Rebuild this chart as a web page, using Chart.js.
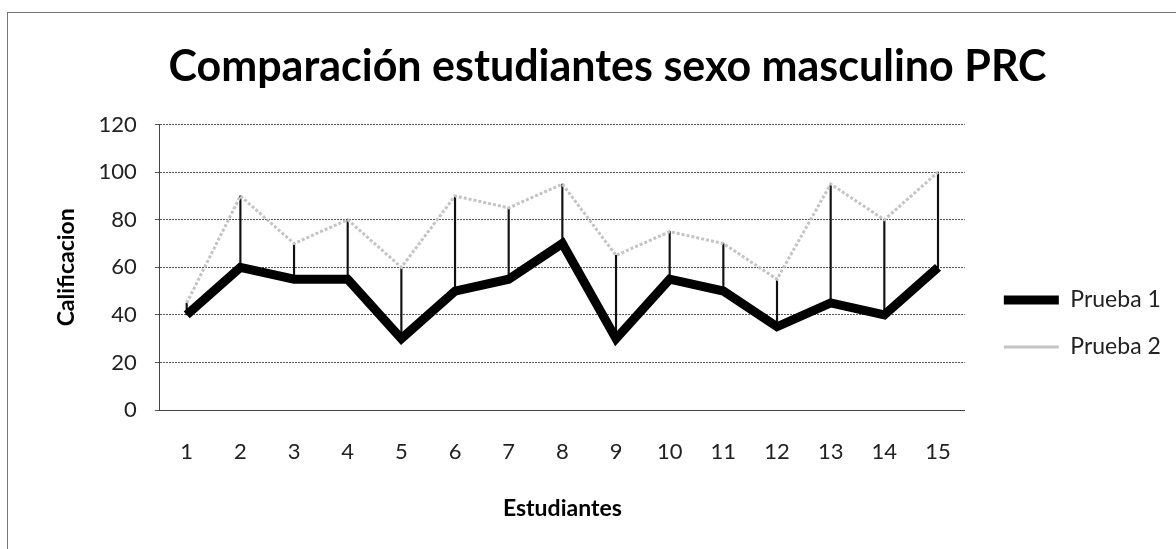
<!DOCTYPE html>
<html>
<head>
<meta charset="utf-8">
<script src="https://cdn.jsdelivr.net/npm/chart.js@4.4.1/dist/chart.umd.min.js"></script>
<style>
  html, body { margin: 0; padding: 0; background: #fff; }
  #wrap { position: relative; width: 1176px; height: 549px; }
  #frame { position: absolute; left: 7px; top: 12px; width: 1180px; height: 560px;
           border-left: 1px solid #777; border-top: 1px solid #777; pointer-events: none; }
</style>
</head>
<body>
<div id="wrap">
  <canvas id="chart" width="1176" height="549"></canvas>
  <div id="frame"></div>
</div>
<script>
// Data
const students = ['1','2','3','4','5','6','7','8','9','10','11','12','13','14','15'];
const prueba1 = [40, 60, 55, 55, 30, 50, 55, 70, 30, 55, 50, 35, 45, 40, 60];
const prueba2 = [45, 90, 70, 80, 60, 90, 85, 95, 65, 75, 70, 55, 95, 80, 100];

// High-low lines between the two tests
const hiLow = prueba1.map((v, i) => [v, prueba2[i]]);

const font = 'Lato, "Open Sans", sans-serif';

new Chart(document.getElementById('chart').getContext('2d'), {
    type: 'line',
    data: {
        labels: students,
        datasets: [
            {
                label: 'Prueba 1',
                data: prueba1,
                borderColor: '#000',
                backgroundColor: '#000',
                borderWidth: 9,
                pointRadius: 0,
                tension: 0,
                order: 1
            },
            {
                label: 'Prueba 2',
                data: prueba2,
                borderColor: '#c4c4c4',
                backgroundColor: '#c4c4c4',
                borderWidth: 3,
                borderDash: [3, 2],
                pointRadius: 0,
                tension: 0,
                order: 2
            },
            {
                type: 'bar',
                label: 'hilo',
                data: hiLow,
                backgroundColor: '#111',
                barThickness: 1.5,
                order: 3
            }
        ]
    },
    options: {
        responsive: false,
        animation: false,
        layout: { padding: { left: 49, right: 10, bottom: 23, top: 0 } },
        plugins: {
            title: {
                display: true,
                text: 'Comparación estudiantes sexo masculino PRC',
                color: '#000',
                font: { family: font, size: 43, weight: 'bold' },
                padding: { top: 41, bottom: 32 }
            },
            legend: {
                position: 'right',
                // empty title only pushes the entries down
                title: { display: true, text: '', font: { size: 10 }, padding: { top: 109, bottom: 0 } },
                labels: {
                    usePointStyle: true,
                    pointStyle: 'line',
                    pointStyleWidth: 55,
                    color: '#222',
                    font: { family: font, size: 23 },
                    padding: 24,
                    filter: item => item.datasetIndex !== 2
                }
            },
            tooltip: { enabled: false }
        },
        scales: {
            x: {
                offset: true,
                grid: { display: false, drawTicks: false },
                border: { color: '#444', width: 1 },
                ticks: { color: '#222', font: { family: font, size: 22 }, padding: 29 },
                title: {
                    display: true,
                    text: 'Estudiantes',
                    color: '#000',
                    font: { family: font, size: 23, weight: 'bold' },
                    padding: { top: 0, bottom: 4 }
                }
            },
            y: {
                min: 0,
                max: 120,
                ticks: { stepSize: 20, color: '#222', font: { family: font, size: 22 }, padding: 18 },
                grid: { color: '#555', tickLength: 5 },
                border: { color: '#444', width: 1, dash: [2, 1] },
                title: {
                    display: true,
                    text: 'Calificacion',
                    color: '#000',
                    font: { family: font, size: 23, weight: 'bold' },
                    padding: { top: 4, bottom: 0 }
                }
            },
            // empty spacer between the plot and the legend
            gap: {
                type: 'linear',
                position: 'right',
                display: true,
                grid: { display: false, drawTicks: false },
                border: { display: false },
                ticks: { display: false },
                afterFit: s => { s.width = 15; }
            }
        }
    }
});
</script>
</body>
</html>
